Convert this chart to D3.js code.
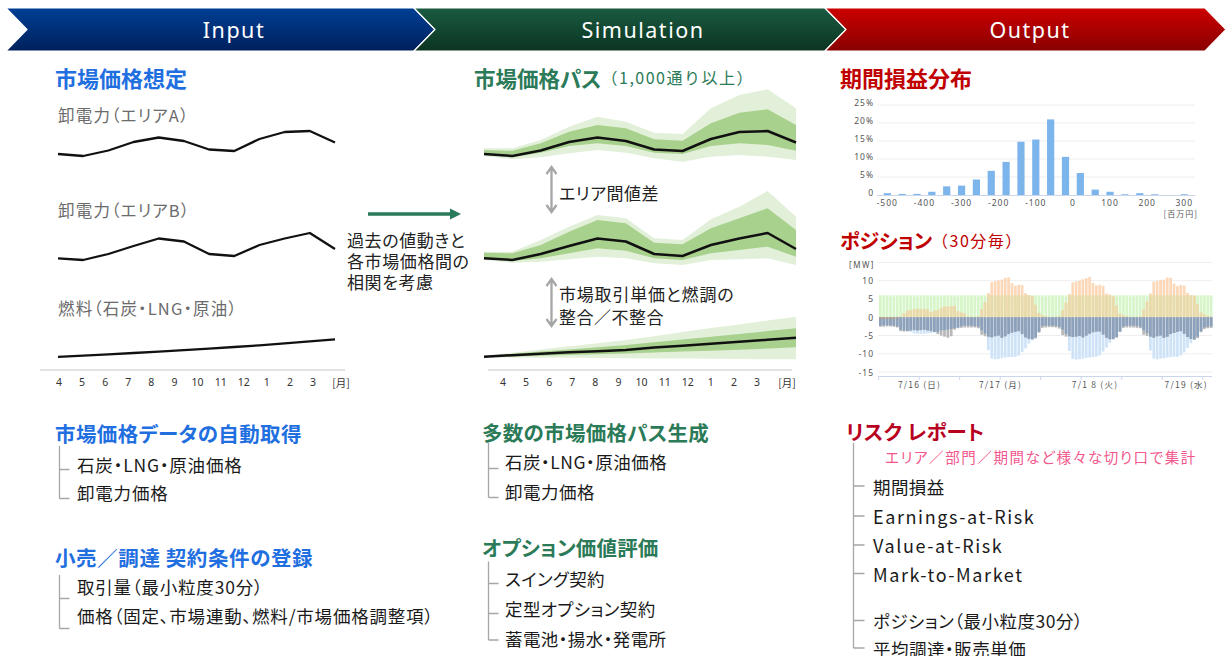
<!DOCTYPE html>
<html>
<head>
<meta charset="utf-8">
<script src="https://cdn.jsdelivr.net/npm/d3@7"></script>
<style>
  body { margin: 0; background: #fff; }
  svg text { font-feature-settings: "palt" 1; }
  svg tspan.full { font-feature-settings: normal; }
</style>
</head>
<body>
<svg id="chart"></svg>
<script>
// ---- data ----
const stageNames = ["Input", "Simulation", "Output"];
const months = ["4", "5", "6", "7", "8", "9", "10", "11", "12", "1", "2", "3"];

// price index per month (same index for input lines and simulated medians)
const areaA = [21, 19, 24.5, 33, 37.5, 34, 25.5, 24, 36, 43, 44, 32.5];
const areaB = [21.7, 20, 26, 34, 41.5, 38.5, 26, 24, 35, 41.5, 47, 31];
const fuel = [13.2, 14.4, 15.7, 17, 18.4, 19.8, 21.3, 23, 24.7, 26.6, 28.6, 30.6];

// simulated paths: percentile bands
const bandA = {
    lightLo: [19, 15.7, 17.7, 21.7, 25, 22.3, 16.7, 13.3, 18.3, 20, 18.3, 15],
    darkLo: [20, 17.7, 22.3, 29, 31.7, 29, 22.3, 21, 29, 31.7, 30, 24.3],
    darkHi: [25, 24.3, 31.7, 43.3, 50, 46.7, 35.7, 34.3, 51.7, 62.3, 65.7, 50],
    lightHi: [26.7, 26.7, 35, 48.3, 58.3, 53.3, 42.3, 41, 66.7, 80, 85.7, 66.7]
};
const bandB = {
    lightLo: [20, 17.3, 18.3, 20.7, 23.3, 21.7, 16.7, 15, 20, 20.7, 21.7, 15],
    darkLo: [20.7, 19, 21.7, 26.7, 31.7, 29.3, 21.7, 20, 26.7, 30, 33.3, 23.3],
    darkHi: [27.3, 26.7, 35, 48.3, 60, 56.7, 37.3, 35.7, 51.7, 61.7, 71.7, 50],
    lightHi: [28.3, 28.3, 40, 53.3, 65, 61.7, 41.7, 40, 60.7, 73.3, 89, 63.3]
};
const fuelPath = [13.3, 14.8, 16.3, 17.7, 18.8, 20, 22.5, 24.3, 26.2, 28.2, 30.2, 32.3];
const bandC = {
    lightLo: [12.5, 12.4, 12.3, 12.2, 12, 11.8, 11.6, 11.4, 11.2, 11, 10.8, 10.7],
    darkLo: [12.8, 13.6, 14.3, 15, 15.8, 16.6, 17.5, 18.4, 19.3, 20.3, 21.5, 22.7],
    darkHi: [14, 16.3, 18.5, 20.6, 22.8, 25, 27.7, 30.5, 33.3, 36, 38.9, 41.7],
    lightHi: [14, 17.2, 20.5, 23.7, 26.8, 30, 33.8, 37.9, 42, 45.6, 49.5, 53.3]
};

// profit & loss distribution (bin centre in 百万円, share in %)
const plBins = [-500, -460, -420, -380, -340, -300, -260, -220, -180, -140, -100,
    -60, -20, 20, 60, 100, 140, 180, 220, 260, 300];
const plShare = [0.5, 0.3, 0.3, 0.9, 2.4, 2.6, 4.3, 6.7, 9.2, 14.8, 15.4,
    21.0, 10.6, 6.1, 1.5, 0.9, 0.2, 0.5, 0.2, 0, 0.2];
const plTicks = [-500, -400, -300, -200, -100, 0, 100, 200, 300];
const plGrid = [0, 5, 10, 15, 20, 25];

// position per hour, 7/16 0:00 .. 7/20 2:00 [MW]
const posLimit = 6;
const posOrange = [
    -0.5, -0.5, -0.5, -0.5, -0.5, -0.4, 0.2, 1.1, 1.8, 2.0, 2.2, 2.3, 2.3, 2.3, 2.1, 1.5, 1.8, 1.9, 2.5, 2.9, 2.9, 3.0, 3.1, 1.6,
    1.3, 1.0, 0.2, 0.1, 0.1, 0.2, 2.2, 4.2, 6.6, 9.6, 9.9, 10.1, 10.3, 10.8, 10.9, 9.3, 8.6, 8.9, 8.8, 6.6, 6.1, 5.8, 3.4, 1.2,
    0.6, 0.3, 0.1, 0, 0.1, 0.3, 2.0, 4.0, 6.4, 9.5, 9.8, 10.0, 10.4, 10.7, 11.0, 9.4, 8.7, 8.9, 8.6, 6.5, 6.2, 5.7, 3.2, 1.0,
    0.5, 0.3, 0.1, 0.1, 0.1, 0.2, 2.1, 4.3, 6.5, 9.7, 9.9, 10.2, 10.3, 10.9, 10.8, 9.2, 8.5, 8.8, 8.7, 6.7, 6.0, 5.9, 3.5, 1.3,
    0.8, 0.4, 0.2
];
const posBlue = [
    -2.3, -2.2, -2.2, -2.2, -2.3, -2.5, -3.4, -3.6, -3.8, -4.0, -4.4, -4.5, -4.5, -4.5, -4.4, -4.3, -4.2, -4.0, -3.6, -3.5, -3.4, -3.2, -3.0, -2.8,
    -2.4, -2.3, -2.3, -2.3, -2.4, -2.6, -3.5, -4.5, -9.0, -11.3, -11.5, -11.4, -11.2, -11.0, -10.9, -10.9, -10.8, -10.5, -9.5, -8.5, -7.2, -6.3, -5.5, -4.0,
    -2.4, -2.3, -2.3, -2.3, -2.4, -2.6, -3.4, -4.6, -9.2, -11.4, -11.6, -11.5, -11.3, -11.1, -11.0, -10.9, -10.7, -10.4, -9.4, -8.3, -7.0, -6.2, -5.4, -3.9,
    -2.5, -2.3, -2.3, -2.3, -2.4, -2.7, -3.5, -4.4, -9.1, -11.3, -11.5, -11.3, -11.2, -11.0, -10.9, -10.8, -10.8, -10.4, -9.6, -8.4, -7.1, -6.1, -5.3, -3.8,
    -2.8, -2.6, -2.5
];
const posGray = [
    -2.6, -2.6, -2.5, -2.5, -2.6, -2.8, -3.8, -3.9, -3.8, -3.6, -3.5, -3.6, -3.5, -3.4, -3.6, -3.8, -4.0, -4.6, -5.0, -5.3, -5.6, -5.2, -3.4, -3.0,
    -2.9, -2.8, -2.8, -2.8, -2.8, -3.0, -4.8, -5.2, -5.3, -5.5, -5.2, -5.0, -5.6, -5.2, -4.6, -4.2, -4.0, -3.8, -4.6, -5.5, -5.9, -6.0, -5.8, -4.2,
    -2.9, -2.8, -2.7, -2.7, -2.8, -3.1, -4.9, -5.3, -5.2, -5.4, -5.3, -5.1, -5.5, -5.0, -4.5, -4.1, -3.9, -3.9, -4.7, -5.6, -6.0, -5.9, -5.6, -4.0,
    -2.9, -2.8, -2.8, -2.8, -2.9, -3.0, -4.8, -5.1, -5.3, -5.6, -5.2, -5.0, -5.6, -5.3, -4.6, -4.3, -4.0, -3.8, -4.5, -5.4, -5.9, -6.1, -5.7, -4.1,
    -3.2, -3.0, -2.9
];
const posTicks = [10, 5, 0, -5, -10, -15];
const dayLabels = ["7/16 (日)", "7/17 (月)", "7/1 8 (火)", "7/19 (水)"];
const dayLabelHours = [12, 36, 64, 91];

// text lists
const inputList1 = ["石炭・LNG・原油価格", "卸電力価格"];
const inputList2 = ["取引量（最小粒度30分）", "価格（固定、市場連動、燃料/市場価格調整項）"];
const simList1 = ["石炭・LNG・原油価格", "卸電力価格"];
const simList2 = ["スイング契約", "定型オプション契約", "蓄電池・揚水・発電所"];
const riskList1 = ["期間損益", "Earnings-at-Risk", "Value-at-Risk", "Mark-to-Market"];
const riskList2 = ["ポジション（最小粒度30分）", "平均調達・販売単価"];

// ---- drawing ----
const W = 1226, H = 656;
const JP = "'Noto Sans CJK JP', 'Noto Sans', sans-serif";
const LAT = "'Noto Sans', 'DejaVu Sans', sans-serif";
const BLUE = "#1f6fe0", GREEN = "#2b7a58", RED = "#c00000";

const svg = d3.select("#chart")
    .attr("width", W)
    .attr("height", H)
    .attr("viewBox", [0, 0, W, H])
    .style("font-family", JP);

function label(x, y, str, size, color, weight, spacing) {
    return svg.append("text")
        .attr("x", x)
        .attr("y", y)
        .attr("dominant-baseline", "central")
        .attr("font-size", size)
        .attr("font-weight", weight || 400)
        .attr("letter-spacing", spacing || 0)
        .attr("fill", color)
        .text(str);
}

// header chevrons
const defs = svg.append("defs");
const stageFill = [["#003f95", "#00205c"], ["#1a5b41", "#0b3421"], ["#cc0000", "#880000"]];
stageFill.forEach((c, i) => {
    let g = defs.append("linearGradient").attr("id", "stage" + i)
        .attr("x1", 0).attr("y1", 0).attr("x2", 0).attr("y2", 1);
    g.append("stop").attr("offset", "0%").attr("stop-color", c[0]);
    g.append("stop").attr("offset", "100%").attr("stop-color", c[1]);
});
const edges = [6, 414, 825, 1205];
const hTop = 8, hBot = 51, hMid = 29.5, notch = 21;
const stageCx = [234, 643, 1030];
stageNames.forEach((name, i) => {
    let x0 = edges[i], x1 = edges[i + 1];
    svg.append("path")
        .attr("d", `M${x0},${hTop}L${x1},${hTop}L${x1 + notch},${hMid}L${x1},${hBot}L${x0},${hBot}L${x0 + notch},${hMid}Z`)
        .attr("fill", `url(#stage${i})`)
        .attr("stroke", "#fff")
        .attr("stroke-width", 1.2);
    svg.append("text")
        .attr("x", stageCx[i])
        .attr("y", hMid)
        .attr("text-anchor", "middle")
        .attr("dominant-baseline", "central")
        .attr("font-family", LAT)
        .attr("font-size", 21.5)
        .attr("letter-spacing", 1.5)
        .attr("fill", "#fff")
        .text(name);
});

// ---- Input: assumed prices ----
label(55, 77, "市場価格想定", 22, BLUE, 700);
label(58, 115, "卸電力（エリアA）", 16.5, "#6b6b6b", 400, 1.2);
label(58, 210, "卸電力（エリアB）", 16.5, "#6b6b6b", 400, 1.2);
label(58, 308, "燃料（石炭・LNG・原油）", 16.5, "#6b6b6b", 400, 1.2);

const yA = d3.scaleLinear().domain([0, 100]).range([175, 75]);
const yB = d3.scaleLinear().domain([0, 100]).range([280, 180]);
const yC = d3.scaleLinear().domain([0, 100]).range([370, 270]);

const xL = d3.scaleLinear().domain([0, 11]).range([58, 335]);
[[areaA, yA], [areaB, yB], [fuel, yC]].forEach(([vals, y]) => {
    svg.append("path")
        .attr("d", d3.line().x((d, i) => xL(i)).y(d => y(d))(vals))
        .attr("fill", "none")
        .attr("stroke", "#111")
        .attr("stroke-width", 2.3)
        .attr("stroke-linejoin", "round");
});

function monthAxis(x0, x1, range, unitX) {
    svg.append("line")
        .attr("x1", x0).attr("x2", x1).attr("y1", 370).attr("y2", 370)
        .attr("stroke", "#d9d9d9").attr("stroke-width", 1.5);
    let xm = d3.scalePoint().domain(months).range(range);
    svg.append("g").selectAll("text").data(months).join("text")
        .attr("x", d => xm(d))
        .attr("y", 382)
        .attr("text-anchor", "middle")
        .attr("dominant-baseline", "central")
        .attr("font-family", LAT)
        .attr("font-size", 10.5)
        .attr("fill", "#333")
        .text(d => d);
    svg.append("text")
        .attr("x", unitX).attr("y", 382)
        .attr("text-anchor", "middle")
        .attr("dominant-baseline", "central")
        .attr("font-size", 10.5)
        .attr("fill", "#333")
        .text("[月]");
}
monthAxis(40, 345, [59, 313], 341);

// arrow between input and simulation
svg.append("line")
    .attr("x1", 368).attr("x2", 452).attr("y1", 214).attr("y2", 214)
    .attr("stroke", "#2a7a5c").attr("stroke-width", 3.4);
svg.append("path")
    .attr("d", "M450,208.5L461,214L450,219.5Z")
    .attr("fill", "#2a7a5c");
["過去の値動きと", "各市場価格間の", "相関を考慮"].forEach((s, i) => {
    label(347, 239 + i * 21, s, 17, "#222", 400, 0.6);
});

// ---- Simulation: price paths ----
svg.append("text")
    .attr("x", 474).attr("y", 77)
    .attr("dominant-baseline", "central")
    .attr("fill", GREEN)
    .call(t => t.append("tspan").attr("font-size", 21.5).attr("font-weight", 700).text("市場価格パス"))
    .call(t => t.append("tspan").attr("class", "full").attr("font-size", 16)
        .attr("letter-spacing", 1.5).text("（1,000通り以上）"));

const xM = d3.scaleLinear().domain([0, 11]).range([484, 796]);
function fan(band, median, y) {
    let area = (lo, hi) => d3.area()
        .x((d, i) => xM(i))
        .y0((d, i) => y(lo[i]))
        .y1((d, i) => y(hi[i]))(median);
    svg.append("path").attr("d", area(band.lightLo, band.lightHi)).attr("fill", "#e2f0d9");
    svg.append("path").attr("d", area(band.darkLo, band.darkHi)).attr("fill", "#a9d18e");
    svg.append("path")
        .attr("d", d3.line().x((d, i) => xM(i)).y(d => y(d))(median))
        .attr("fill", "none")
        .attr("stroke", "#111")
        .attr("stroke-width", 2.5)
        .attr("stroke-linejoin", "round");
}
fan(bandA, areaA, yA);
fan(bandB, areaB, yB);
fan(bandC, fuelPath, yC);
monthAxis(488, 792, [503, 757], 787);

function doubleArrow(x, y0, y1) {
    svg.append("path")
        .attr("d", `M${x},${y0}V${y1}M${x - 5},${y0 + 7}L${x},${y0}L${x + 5},${y0 + 7}M${x - 5},${y1 - 7}L${x},${y1}L${x + 5},${y1 - 7}`)
        .attr("fill", "none")
        .attr("stroke", "#a6a6a6")
        .attr("stroke-width", 2.3);
}
doubleArrow(551.5, 167, 212);
doubleArrow(551.5, 279, 326);
label(559, 192.5, "エリア間値差", 17, "#222", 400, 0.5);
label(559, 293, "市場取引単価と燃調の", 17, "#222", 400, 0.8);
label(559, 316.5, "整合／不整合", 17, "#222", 400, 0.5);

// ---- Output: P&L distribution ----
label(840, 77, "期間損益分布", 22, RED, 700);

const xH = d3.scaleLinear().domain([-500, 300]).range([887.3, 1184.3]);
const yH = d3.scaleLinear().domain([0, 25]).range([195, 105]);
const hist = svg.append("g").attr("font-family", LAT).attr("font-size", 8.5).attr("fill", "#555");
hist.selectAll("line.grid").data(plGrid.slice(1)).join("line")
    .attr("x1", 877).attr("x2", 1195)
    .attr("y1", d => yH(d)).attr("y2", d => yH(d))
    .attr("stroke", "#eeeeee");
hist.selectAll("text.y").data(plGrid).join("text")
    .attr("x", 874)
    .attr("y", d => yH(d) - 2.5)
    .attr("text-anchor", "end")
    .attr("dominant-baseline", "central")
    .attr("letter-spacing", 1)
    .text(d => d === 0 ? "0" : d + "%");
hist.selectAll("rect").data(plBins).join("rect")
    .attr("x", d => xH(d) - 3.6)
    .attr("width", 7.2)
    .attr("y", (d, i) => yH(plShare[i]))
    .attr("height", (d, i) => yH(0) - yH(plShare[i]))
    .attr("fill", "#7cb5ec");
hist.append("line")
    .attr("x1", 877).attr("x2", 1195).attr("y1", yH(0) + 0.5).attr("y2", yH(0) + 0.5)
    .attr("stroke", "#ccd6eb");
hist.selectAll("text.x").data(plTicks).join("text")
    .attr("x", d => xH(d))
    .attr("y", 202)
    .attr("text-anchor", "middle")
    .attr("dominant-baseline", "central")
    .attr("letter-spacing", 1)
    .text(d => d);
hist.append("text")
    .attr("x", 1198).attr("y", 213)
    .attr("text-anchor", "end")
    .attr("dominant-baseline", "central")
    .attr("font-family", JP)
    .attr("font-size", 8)
    .attr("letter-spacing", 1)
    .text("[百万円]");

// ---- Output: position ----
svg.append("text")
    .attr("x", 840).attr("y", 240)
    .attr("dominant-baseline", "central")
    .attr("fill", RED)
    .call(t => t.append("tspan").attr("font-size", 20).attr("font-weight", 700).text("ポジション"))
    .call(t => t.append("tspan").attr("class", "full").attr("font-size", 16)
        .attr("letter-spacing", 1.5).text("（30分毎）"));

const hours = d3.range(posOrange.length);
const xP = d3.scaleBand().domain(hours).range([879, 1212.5]).paddingInner(0.2);
const yP = d3.scaleLinear().domain([-16.2, 15]).range([376.5, 262.4]);
const pos = svg.append("g").attr("font-family", LAT).attr("font-size", 8.5).attr("fill", "#555");

pos.selectAll("line.grid").data([15].concat(posTicks)).join("line")
    .attr("x1", 878).attr("x2", 1212)
    .attr("y1", d => yP(d)).attr("y2", d => yP(d))
    .attr("stroke", "#eeeeee");

function bars(cls, y0f, y1f, color) {
    pos.selectAll("rect." + cls).data(hours).join("rect")
        .attr("class", cls)
        .attr("x", i => xP(i))
        .attr("width", xP.bandwidth())
        .attr("y", i => Math.min(yP(y0f(i)), yP(y1f(i))))
        .attr("height", i => Math.abs(yP(y0f(i)) - yP(y1f(i))))
        .attr("fill", color);
}
const zero = () => 0;
bars("green", zero, () => posLimit, "#d6f6c9");
bars("orange", zero, i => Math.max(posOrange[i], 0), "#fcd8b9");
bars("mix", zero, i => Math.min(Math.max(posOrange[i], 0), posLimit), "#e8dbab");
bars("blue", zero, i => posBlue[i], "#cfe3f8");
bars("gray", zero, i => posGray[i], "#b8b8b8");
bars("slate", zero, i => Math.max(posBlue[i], posGray[i]), "#8ca1bc");
bars("orneg", zero, i => Math.min(posOrange[i], 0), "#b59e8e");

pos.append("line")
    .attr("x1", 878).attr("x2", 1212).attr("y1", 376.5).attr("y2", 376.5)
    .attr("stroke", "#ccd6eb");
pos.selectAll("line.tick").data(d3.range(0, posOrange.length, 12)).join("line")
    .attr("x1", i => xP(i) - xP.step() * 0.1)
    .attr("x2", i => xP(i) - xP.step() * 0.1)
    .attr("y1", 376.5).attr("y2", 380)
    .attr("stroke", "#ccd6eb");
pos.selectAll("text.y").data(posTicks).join("text")
    .attr("x", 874)
    .attr("y", d => yP(d))
    .attr("text-anchor", "end")
    .attr("dominant-baseline", "central")
    .attr("letter-spacing", 1)
    .text(d => d);
pos.append("text")
    .attr("x", 875).attr("y", 264)
    .attr("text-anchor", "end")
    .attr("dominant-baseline", "central")
    .attr("letter-spacing", 1.5)
    .attr("font-size", 8)
    .text("[MW]");
pos.selectAll("text.day").data(dayLabels).join("text")
    .attr("x", (d, i) => xP(dayLabelHours[i]))
    .attr("y", 384)
    .attr("text-anchor", "middle")
    .attr("dominant-baseline", "central")
    .attr("font-family", JP)
    .attr("letter-spacing", 1.2)
    .text(d => d);

// ---- lower lists ----
function tree(x, yStart, branchYs, len) {
    svg.append("path")
        .attr("d", `M${x},${yStart}V${d3.max(branchYs)}` + branchYs.map(y => `M${x},${y}H${x + len}`).join(""))
        .attr("fill", "none")
        .attr("stroke", "#a6a6a6")
        .attr("stroke-width", 1.3);
}
function list(items, x, y0, step, spacing) {
    items.forEach((s, i) => {
        let latin = /^[A-Za-z-]+$/.test(s);
        label(x, y0 + i * step, s, latin ? 18 : 17.5, "#1a1a1a", 400, latin ? 1.6 : spacing);
    });
}

label(55, 433, "市場価格データの自動取得", 20.5, BLUE, 700, 0.4);
list(inputList1, 77, 464, 28.5, 0.8);
tree(59.5, 446, [469.5, 498.5], 10);
label(55, 556.5, "小売／調達 契約条件の登録", 20.5, BLUE, 700, 0.6);
list(inputList2, 77, 586, 29, 0.8);
tree(59.5, 575, [598.5, 628.5], 10);

label(482, 431.5, "多数の市場価格パス生成", 20.5, GREEN, 700, 0.3);
list(simList1, 505, 461.7, 30, 0.5);
tree(488.5, 443, [468.5, 497.5], 10);
label(482, 547, "オプション価値評価", 20.5, GREEN, 700, 0.2);
list(simList2, 505, 578.3, 30, 0.4);
tree(488.5, 561.5, [583.5, 613.5, 640], 10);

label(846, 431, "リスク レポート", 20.5, "#b8001f", 700, 0.3);
label(885, 456.7, "エリア／部門／期間など様々な切り口で集計", 14.5, "#f2578d", 400, 1.6);
list(riskList1, 873, 486.7, 29, 0.4);
list(riskList2, 873, 620, 28, 0.5);
tree(853.5, 443, [486, 516, 545, 573.5, 620.5, 648], 11);
</script>
</body>
</html>
